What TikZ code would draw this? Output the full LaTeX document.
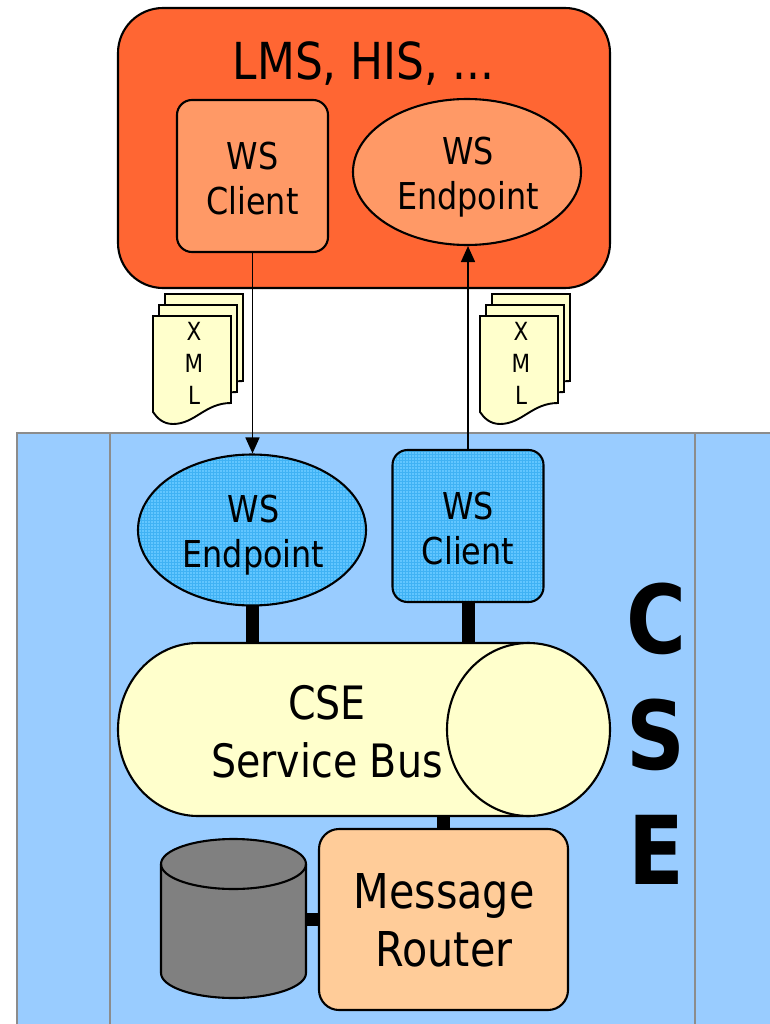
\documentclass[tikz,border=0pt]{standalone}
\usepackage{fontspec}
\setmainfont{DejaVu Sans}[FakeStretch=0.86]
\usetikzlibrary{arrows.meta,shapes.geometric,patterns}
\definecolor{lmsorange}{HTML}{FF6633}
\definecolor{lightorange}{HTML}{FF9966}
\definecolor{cseblue}{HTML}{99CCFF}
\definecolor{wsblue}{HTML}{62C6FF}
\definecolor{wsgrid}{HTML}{40B2F4}
\definecolor{busyellow}{HTML}{FFFFCC}
\definecolor{routerpeach}{HTML}{FFCC99}
\definecolor{dbgray}{HTML}{808080}
\definecolor{framegray}{HTML}{8C8C8C}
\newcommand\setsz[2]{\fontsize{#1}{#2}\selectfont}
\pgfdeclarelayer{back}
\pgfdeclarelayer{mid}
\pgfsetlayers{back,mid,main}
\begin{document}
\begin{tikzpicture}[x=1pt,y=1pt,
  outline/.style={draw=black, line width=2.1pt},
  wsfill/.style={preaction={fill=wsblue}, preaction={pattern=grid, pattern color=wsgrid}},
  wsbox/.style={outline, rounded corners=15pt, minimum width=151pt, minimum height=152pt, inner sep=0pt},
  wsell/.style={outline, ellipse, inner sep=0pt, minimum width=228pt, minimum height=146pt},
  wstext/.style={inner sep=0pt, anchor=north, align=center, font=\setsz{37}{45}},
  flow/.style={line width=1.7pt, -{Triangle[length=16pt,width=14pt]}},
  link/.style={line width=13pt},
  xmlpage/.pic={\path[outline, fill=busyellow, line width=1.9pt] (0,0) -- (78,0) -- (78,-87)
     .. controls (52,-87) and (42,-108) .. (20,-108)
     .. controls (10,-108) and (4,-102) .. (0,-96) -- cycle;},
  xmltext/.style={inner sep=0pt, anchor=north, align=center, font=\setsz{25}{32}}
]
\useasboundingbox (0,0) rectangle (769,-1024);

% CSE container
\begin{pgfonlayer}{back}
\fill[cseblue] (17,-433) rectangle (775,-1030);
\draw[framegray, line width=2.5pt] (775,-433) -- (17,-433) -- (17,-1030);
\draw[framegray, line width=2.5pt] (110,-433) -- (110,-1030);
\draw[framegray, line width=2.5pt] (695,-433) -- (695,-1030);
\end{pgfonlayer}

% top system
\node[outline, fill=lmsorange, rounded corners=45pt, minimum width=492pt, minimum height=280pt, inner sep=0pt] (lms) at (364,-148) {};
\node[inner sep=0pt, anchor=base, font=\setsz{51}{51}] (lmstitle) at (363.5,-80) {LMS, HIS, ...};
\node[wsbox, fill=lightorange] (tclient) at (252.5,-176) {};
\node[wstext] (tclienttext) at (252.5,-142) {WS\\Client};
\node[wsell, fill=lightorange] (tend) at (467,-172) {};
\node[wstext] (tendtext) at (468,-137) {WS\\Endpoint};

% XML documents
\pic (xmlLa) at (165,-294) {xmlpage};
\pic (xmlLb) at (159,-305) {xmlpage};
\pic (xmlLc) at (153,-316) {xmlpage};
\node[xmltext] (xmlLtext) at (194,-322) {X\\M\\L};
\pic (xmlRa) at (492,-294) {xmlpage};
\pic (xmlRb) at (486,-305) {xmlpage};
\pic (xmlRc) at (480,-316) {xmlpage};
\node[xmltext] (xmlRtext) at (521,-322) {X\\M\\L};

% CSE web service nodes
\node[wsell, wsfill, minimum height=151pt] (cend) at (252,-530) {};
\node[wstext] (cendtext) at (253.5,-495) {WS\\Endpoint};
\node[wsbox, wsfill] (cclient) at (468,-526) {};
\node[wstext] (cclienttext) at (468,-492) {WS\\Client};

% service bus
\coordinate (bus) at (364,-729.5);
\path[outline, fill=busyellow] (528.5,-643) -- (198,-643)
  arc[start angle=90, end angle=270, x radius=80, y radius=86.5]
  -- (528.5,-816) -- cycle;
\draw[outline, fill=busyellow] (528.5,-729.5) ellipse[x radius=81.5, y radius=86.5];
\node[inner sep=0pt, anchor=north, align=center, font=\setsz{46}{58}] (bustext) at (327,-685) {CSE\\Service Bus};

% database
\coordinate (db) at (233.5,-919.5);
\path[outline, fill=dbgray] (161,-864) -- (161,-973)
  arc[start angle=180, end angle=360, x radius=72.5, y radius=25]
  -- (306,-864)
  arc[start angle=0, end angle=180, x radius=72.5, y radius=25] -- cycle;
\draw[outline] (161,-864) arc[start angle=180, end angle=360, x radius=72.5, y radius=25];

% message router
\node[outline, fill=routerpeach, rounded corners=20pt, minimum width=249pt, minimum height=181pt, inner sep=0pt] (router) at (443.5,-919.5) {};
\node[inner sep=0pt, anchor=north, align=center, font=\setsz{48}{58}] (routertext) at (444,-873) {Message\\Router};

% big CSE label
\node[inner sep=0pt, anchor=north, align=center, font=\bfseries\setsz{95}{115.5}] (cselabel) at (656,-583) {C\\S\\E};

% thick links
\begin{pgfonlayer}{mid}
\draw[link] (cend.center) -- (cend.center |- bus);
\draw[link] (cclient.center) -- (cclient.center |- bus);
\draw[link] (router.center) -- (router.center |- bus);
\draw[link] (db) -- (router.center);
\end{pgfonlayer}

% web service messages
\draw[flow] (tclient.south) -- (tclient.south |- cend.north);
\draw[flow] (cclient.north) -- (cclient.north |- tend.south);
\end{tikzpicture}
\end{document}
